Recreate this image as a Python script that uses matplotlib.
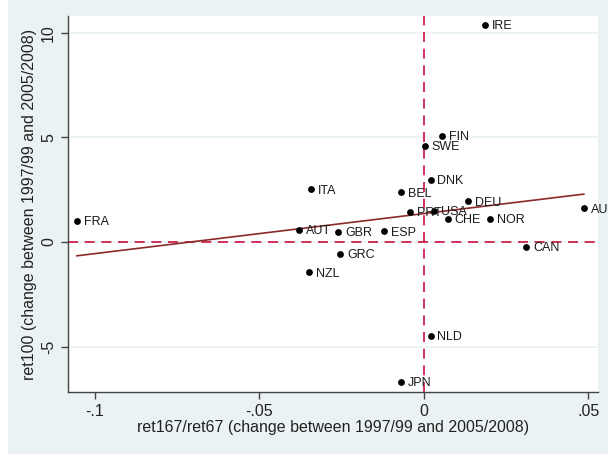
import numpy as np
import matplotlib.pyplot as plt
from matplotlib.patches import Rectangle

# country codes and values
countries = ['FRA', 'IRE', 'FIN', 'SWE', 'DNK', 'ITA', 'BEL', 'DEU', 'AUS', 'PRT', 'USA',
             'CHE', 'NOR', 'AUT', 'GBR', 'ESP', 'CAN', 'GRC', 'NZL', 'NLD', 'JPN']
ret167 = [-0.1055, 0.0185, 0.0054, 0.0003, 0.0020, -0.0343, -0.0070, 0.0135, 0.0486, -0.0043, 0.0030,
          0.0072, 0.0200, -0.0380, -0.0260, -0.0120, 0.0310, -0.0255, -0.0349, 0.0020, -0.0070]
ret100 = [1.00, 10.37, 5.08, 4.59, 2.98, 2.52, 2.37, 1.94, 1.61, 1.43, 1.48,
          1.11, 1.11, 0.59, 0.48, 0.51, -0.22, -0.56, -1.45, -4.49, -6.67]

bg = '#EAF2F3'
plt.rcParams['font.family'] = ['Liberation Sans', 'DejaVu Sans']

fig = plt.figure(figsize=(6.08, 4.54), dpi=100, facecolor='white')
fig.patches.append(Rectangle((8/608, 0), 1, 1, transform=fig.transFigure,
                             facecolor=bg, edgecolor='none', zorder=-10))
ax = fig.add_axes([68/608, 1 - 392/454, 530/608, 376/454])
ax.set_facecolor('white')

x = np.array(ret167)
y = np.array(ret100)

# linear fit
b, a = np.polyfit(x, y, 1)
xs = np.array([x.min(), x.max()])
ax.plot(xs, a + b*xs, color='#8B2A2A', lw=1.2, zorder=3)

ax.axhline(0, color='#C8103E', lw=1.2, ls=(0, (6, 4)), zorder=2)
ax.axvline(0, color='#C8103E', lw=1.2, ls=(0, (6, 4)), zorder=2)

ax.scatter(x, y, s=24, color='black', zorder=4, linewidths=0)
for c, xi, yi in zip(countries, x, y):
    ax.annotate(c, (xi, yi), xytext=(5, -1), textcoords='offset points',
                fontsize=9, va='center', ha='left', color='#1a1a1a', zorder=5,
                annotation_clip=False)

ax.set_xlim(-0.1082, 0.0529)
ax.set_ylim(-7.17, 10.8)
ax.set_xticks([-0.1, -0.05, 0, 0.05])
ax.set_xticklabels(['-.1', '-.05', '0', '.05'])
ax.set_yticks([-5, 0, 5, 10])
ax.set_yticklabels(['-5', '0', '5', '10'], rotation=90, va='center')
ax.grid(axis='y', color=bg, lw=1.2, zorder=0)
ax.set_axisbelow(True)

for s in ['top', 'right']:
    ax.spines[s].set_visible(False)
for s in ['left', 'bottom']:
    ax.spines[s].set_color('#444444')
    ax.spines[s].set_linewidth(1.0)
ax.tick_params(direction='out', length=5, width=1, color='#444444',
               labelsize=11.5, labelcolor='#222222')

ax.set_xlabel('ret167/ret67 (change between 1997/99 and 2005/2008)', fontsize=11.5, color='#222222', labelpad=1)
ax.set_ylabel('ret100 (change between 1997/99 and 2005/2008)', fontsize=11.5, color='#222222', labelpad=3)

fig.savefig('out.png', dpi=100, facecolor=fig.get_facecolor())
